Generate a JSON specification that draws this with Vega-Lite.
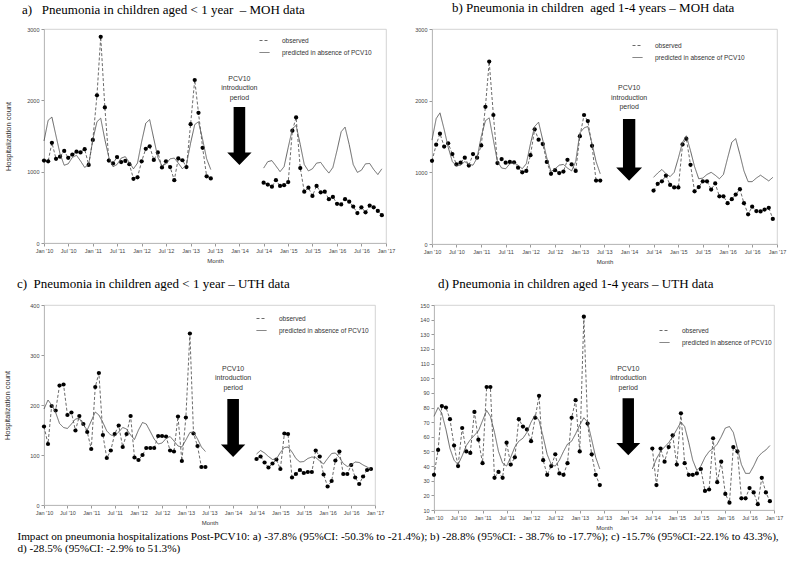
{
"$schema": "https://vega.github.io/schema/vega-lite/v6.json",
"background": "white",
"padding": {"left": 3, "top": 1, "right": 3, "bottom": 3},
"config": {
  "font": "Liberation Sans",
  "view": {"stroke": "#c8c8c8", "strokeWidth": 0.8},
  "axis": {"labelFont": "Liberation Sans", "labelFontSize": 5.5, "labelColor": "#444", "titleFont": "Liberation Sans", "titleFontWeight": "normal", "titleColor": "#333", "domainColor": "#bbb", "tickColor": "#999", "tickSize": 3, "grid": false, "labelPadding": 2},
  "axisX": {"labelOverlap": false, "labelFlush": false, "titleFontSize": 6, "titlePadding": 4},
  "title": {"font": "Liberation Serif", "fontSize": 13, "fontWeight": "normal", "color": "black", "anchor": "start", "frame": "group"},
  "legend": {"title": null, "orient": "none", "padding": 0, "labelFont": "Liberation Sans", "labelFontSize": 6.5, "labelColor": "#333", "symbolType": "stroke", "symbolSize": 100, "symbolStrokeWidth": 0.8, "symbolStrokeColor": "#444", "rowPadding": 3, "labelOffset": 12}
},
"datasets": {
  "a": [
    {"d":"2010-01","o":1155,"f":1430,"s":1},{"d":"2010-02","o":1145,"f":1720,"s":1},{"d":"2010-03","o":1405,"f":1765,"s":1},{"d":"2010-04","o":1180,"f":1500,"s":1},{"d":"2010-05","o":1210,"f":1250,"s":1},{"d":"2010-06","o":1290,"f":1090,"s":1},{"d":"2010-07","o":1195,"f":1110,"s":1},{"d":"2010-08","o":1240,"f":1200,"s":1},{"d":"2010-09","o":1280,"f":1230,"s":1},{"d":"2010-10","o":1270,"f":1150,"s":1},{"d":"2010-11","o":1315,"f":1060,"s":1},{"d":"2010-12","o":1095,"f":1100,"s":1},
    {"d":"2011-01","o":1445,"f":1450,"s":1},{"d":"2011-02","o":2070,"f":1700,"s":1},{"d":"2011-03","o":2890,"f":1750,"s":1},{"d":"2011-04","o":1900,"f":1450,"s":1},{"d":"2011-05","o":1155,"f":1200,"s":1},{"d":"2011-06","o":1115,"f":1070,"s":1},{"d":"2011-07","o":1205,"f":1100,"s":1},{"d":"2011-08","o":1135,"f":1190,"s":1},{"d":"2011-09","o":1150,"f":1210,"s":1},{"d":"2011-10","o":1105,"f":1130,"s":1},{"d":"2011-11","o":900,"f":1040,"s":1},{"d":"2011-12","o":920,"f":1120,"s":1},
    {"d":"2012-01","o":1145,"f":1420,"s":1},{"d":"2012-02","o":1320,"f":1680,"s":1},{"d":"2012-03","o":1355,"f":1730,"s":1},{"d":"2012-04","o":1165,"f":1460,"s":1},{"d":"2012-05","o":1270,"f":1200,"s":1},{"d":"2012-06","o":1060,"f":1080,"s":1},{"d":"2012-07","o":1145,"f":1110,"s":1},{"d":"2012-08","o":1065,"f":1180,"s":1},{"d":"2012-09","o":880,"f":1190,"s":1},{"d":"2012-10","o":1185,"f":1120,"s":1},{"d":"2012-11","o":1160,"f":1040,"s":1},{"d":"2012-12","o":1065,"f":1100,"s":1},
    {"d":"2013-01","o":1665,"f":1400,"s":1},{"d":"2013-02","o":2285,"f":1660,"s":1},{"d":"2013-03","o":1825,"f":1700,"s":1},{"d":"2013-04","o":1335,"f":1450,"s":1},{"d":"2013-05","o":935,"f":1180,"s":1},{"d":"2013-06","o":905,"f":1030,"s":1},
    {"d":"2014-07","o":845,"f":1050,"s":2},{"d":"2014-08","o":820,"f":1140,"s":2},{"d":"2014-09","o":790,"f":1155,"s":2},{"d":"2014-10","o":880,"f":1080,"s":2},{"d":"2014-11","o":800,"f":1000,"s":2},{"d":"2014-12","o":810,"f":1070,"s":2},
    {"d":"2015-01","o":855,"f":1340,"s":2},{"d":"2015-02","o":1575,"f":1600,"s":2},{"d":"2015-03","o":1760,"f":1650,"s":2},{"d":"2015-04","o":1050,"f":1380,"s":2},{"d":"2015-05","o":720,"f":1100,"s":2},{"d":"2015-06","o":775,"f":1010,"s":2},{"d":"2015-07","o":660,"f":1040,"s":2},{"d":"2015-08","o":800,"f":1120,"s":2},{"d":"2015-09","o":710,"f":1130,"s":2},{"d":"2015-10","o":720,"f":1050,"s":2},{"d":"2015-11","o":615,"f":980,"s":2},{"d":"2015-12","o":645,"f":1060,"s":2},
    {"d":"2016-01","o":550,"f":1300,"s":2},{"d":"2016-02","o":540,"f":1560,"s":2},{"d":"2016-03","o":615,"f":1625,"s":2},{"d":"2016-04","o":580,"f":1380,"s":2},{"d":"2016-05","o":510,"f":1100,"s":2},{"d":"2016-06","o":420,"f":990,"s":2},{"d":"2016-07","o":500,"f":1020,"s":2},{"d":"2016-08","o":430,"f":1110,"s":2},{"d":"2016-09","o":525,"f":1115,"s":2},{"d":"2016-10","o":500,"f":1030,"s":2},{"d":"2016-11","o":450,"f":960,"s":2},{"d":"2016-12","o":390,"f":1040,"s":2}
  ],
  "b": [
    {"d":"2010-01","o":1160,"f":1450,"s":1},{"d":"2010-02","o":1385,"f":1750,"s":1},{"d":"2010-03","o":1540,"f":1830,"s":1},{"d":"2010-04","o":1360,"f":1600,"s":1},{"d":"2010-05","o":1405,"f":1350,"s":1},{"d":"2010-06","o":1255,"f":1150,"s":1},{"d":"2010-07","o":1110,"f":1090,"s":1},{"d":"2010-08","o":1135,"f":1100,"s":1},{"d":"2010-09","o":1205,"f":1150,"s":1},{"d":"2010-10","o":1095,"f":1110,"s":1},{"d":"2010-11","o":1255,"f":1100,"s":1},{"d":"2010-12","o":1205,"f":1200,"s":1},
    {"d":"2011-01","o":1375,"f":1500,"s":1},{"d":"2011-02","o":1915,"f":1720,"s":1},{"d":"2011-03","o":2545,"f":1760,"s":1},{"d":"2011-04","o":1800,"f":1450,"s":1},{"d":"2011-05","o":1130,"f":1150,"s":1},{"d":"2011-06","o":1185,"f":1060,"s":1},{"d":"2011-07","o":1135,"f":1050,"s":1},{"d":"2011-08","o":1145,"f":1120,"s":1},{"d":"2011-09","o":1140,"f":1130,"s":1},{"d":"2011-10","o":1065,"f":1100,"s":1},{"d":"2011-11","o":1000,"f":1050,"s":1},{"d":"2011-12","o":1020,"f":1120,"s":1},
    {"d":"2012-01","o":1240,"f":1400,"s":1},{"d":"2012-02","o":1600,"f":1640,"s":1},{"d":"2012-03","o":1455,"f":1700,"s":1},{"d":"2012-04","o":1395,"f":1450,"s":1},{"d":"2012-05","o":1145,"f":1200,"s":1},{"d":"2012-06","o":980,"f":1010,"s":1},{"d":"2012-07","o":1030,"f":1050,"s":1},{"d":"2012-08","o":990,"f":1100,"s":1},{"d":"2012-09","o":1010,"f":1110,"s":1},{"d":"2012-10","o":1175,"f":1060,"s":1},{"d":"2012-11","o":1110,"f":1020,"s":1},{"d":"2012-12","o":1020,"f":1150,"s":1},
    {"d":"2013-01","o":1505,"f":1550,"s":1},{"d":"2013-02","o":1800,"f":1620,"s":1},{"d":"2013-03","o":1715,"f":1640,"s":1},{"d":"2013-04","o":1370,"f":1400,"s":1},{"d":"2013-05","o":885,"f":1150,"s":1},{"d":"2013-06","o":885,"f":980,"s":1},
    {"d":"2014-07","o":745,"f":930,"s":2},{"d":"2014-08","o":840,"f":990,"s":2},{"d":"2014-09","o":875,"f":1040,"s":2},{"d":"2014-10","o":955,"f":980,"s":2},{"d":"2014-11","o":825,"f":940,"s":2},{"d":"2014-12","o":790,"f":1000,"s":2},
    {"d":"2015-01","o":790,"f":1200,"s":2},{"d":"2015-02","o":1390,"f":1420,"s":2},{"d":"2015-03","o":1470,"f":1510,"s":2},{"d":"2015-04","o":1105,"f":1300,"s":2},{"d":"2015-05","o":735,"f":1080,"s":2},{"d":"2015-06","o":795,"f":910,"s":2},{"d":"2015-07","o":875,"f":920,"s":2},{"d":"2015-08","o":875,"f":970,"s":2},{"d":"2015-09","o":760,"f":1000,"s":2},{"d":"2015-10","o":845,"f":960,"s":2},{"d":"2015-11","o":665,"f":910,"s":2},{"d":"2015-12","o":665,"f":970,"s":2},
    {"d":"2016-01","o":570,"f":1200,"s":2},{"d":"2016-02","o":625,"f":1420,"s":2},{"d":"2016-03","o":690,"f":1470,"s":2},{"d":"2016-04","o":765,"f":1250,"s":2},{"d":"2016-05","o":570,"f":1020,"s":2},{"d":"2016-06","o":415,"f":870,"s":2},{"d":"2016-07","o":520,"f":870,"s":2},{"d":"2016-08","o":460,"f":920,"s":2},{"d":"2016-09","o":455,"f":960,"s":2},{"d":"2016-10","o":480,"f":920,"s":2},{"d":"2016-11","o":505,"f":880,"s":2},{"d":"2016-12","o":350,"f":930,"s":2}
  ],
  "c": [
    {"d":"2010-01","o":157,"f":192,"s":1},{"d":"2010-02","o":122,"f":210,"s":1},{"d":"2010-03","o":198,"f":200,"s":1},{"d":"2010-04","o":189,"f":185,"s":1},{"d":"2010-05","o":239,"f":163,"s":1},{"d":"2010-06","o":241,"f":155,"s":1},{"d":"2010-07","o":180,"f":153,"s":1},{"d":"2010-08","o":185,"f":162,"s":1},{"d":"2010-09","o":149,"f":172,"s":1},{"d":"2010-10","o":178,"f":173,"s":1},{"d":"2010-11","o":162,"f":160,"s":1},{"d":"2010-12","o":146,"f":150,"s":1},
    {"d":"2011-01","o":112,"f":168,"s":1},{"d":"2011-02","o":236,"f":186,"s":1},{"d":"2011-03","o":264,"f":180,"s":1},{"d":"2011-04","o":140,"f":165,"s":1},{"d":"2011-05","o":94,"f":148,"s":1},{"d":"2011-06","o":109,"f":140,"s":1},{"d":"2011-07","o":142,"f":138,"s":1},{"d":"2011-08","o":159,"f":146,"s":1},{"d":"2011-09","o":116,"f":155,"s":1},{"d":"2011-10","o":142,"f":152,"s":1},{"d":"2011-11","o":178,"f":140,"s":1},{"d":"2011-12","o":95,"f":131,"s":1},
    {"d":"2012-01","o":90,"f":150,"s":1},{"d":"2012-02","o":100,"f":165,"s":1},{"d":"2012-03","o":114,"f":162,"s":1},{"d":"2012-04","o":114,"f":147,"s":1},{"d":"2012-05","o":114,"f":132,"s":1},{"d":"2012-06","o":138,"f":122,"s":1},{"d":"2012-07","o":138,"f":124,"s":1},{"d":"2012-08","o":137,"f":133,"s":1},{"d":"2012-09","o":109,"f":137,"s":1},{"d":"2012-10","o":107,"f":128,"s":1},{"d":"2012-11","o":177,"f":118,"s":1},{"d":"2012-12","o":88,"f":116,"s":1},
    {"d":"2013-01","o":175,"f":130,"s":1},{"d":"2013-02","o":343,"f":145,"s":1},{"d":"2013-03","o":143,"f":146,"s":1},{"d":"2013-04","o":118,"f":132,"s":1},{"d":"2013-05","o":76,"f":116,"s":1},{"d":"2013-06","o":76,"f":107,"s":1},
    {"d":"2014-07","o":92,"f":102,"s":2},{"d":"2014-08","o":97,"f":109,"s":2},{"d":"2014-09","o":85,"f":104,"s":2},{"d":"2014-10","o":75,"f":97,"s":2},{"d":"2014-11","o":83,"f":91,"s":2},{"d":"2014-12","o":91,"f":92,"s":2},
    {"d":"2015-01","o":72,"f":105,"s":2},{"d":"2015-02","o":143,"f":115,"s":2},{"d":"2015-03","o":142,"f":116,"s":2},{"d":"2015-04","o":55,"f":106,"s":2},{"d":"2015-05","o":62,"f":93,"s":2},{"d":"2015-06","o":70,"f":86,"s":2},{"d":"2015-07","o":64,"f":87,"s":2},{"d":"2015-08","o":66,"f":93,"s":2},{"d":"2015-09","o":66,"f":96,"s":2},{"d":"2015-10","o":109,"f":95,"s":2},{"d":"2015-11","o":97,"f":88,"s":2},{"d":"2015-12","o":61,"f":82,"s":2},
    {"d":"2016-01","o":37,"f":93,"s":2},{"d":"2016-02","o":48,"f":103,"s":2},{"d":"2016-03","o":89,"f":104,"s":2},{"d":"2016-04","o":107,"f":95,"s":2},{"d":"2016-05","o":62,"f":83,"s":2},{"d":"2016-06","o":62,"f":77,"s":2},{"d":"2016-07","o":80,"f":80,"s":2},{"d":"2016-08","o":55,"f":86,"s":2},{"d":"2016-09","o":42,"f":85,"s":2},{"d":"2016-10","o":57,"f":80,"s":2},{"d":"2016-11","o":70,"f":76,"s":2},{"d":"2016-12","o":72,"f":71,"s":2}
  ],
  "d": [
    {"d":"2010-01","o":34,"f":74,"s":1},{"d":"2010-02","o":51,"f":80,"s":1},{"d":"2010-03","o":81,"f":76,"s":1},{"d":"2010-04","o":80,"f":65,"s":1},{"d":"2010-05","o":72,"f":52,"s":1},{"d":"2010-06","o":54,"f":44,"s":1},{"d":"2010-07","o":40,"f":41,"s":1},{"d":"2010-08","o":66,"f":47,"s":1},{"d":"2010-09","o":50,"f":54,"s":1},{"d":"2010-10","o":49,"f":58,"s":1},{"d":"2010-11","o":77,"f":61,"s":1},{"d":"2010-12","o":58,"f":64,"s":1},
    {"d":"2011-01","o":42,"f":71,"s":1},{"d":"2011-02","o":94,"f":78,"s":1},{"d":"2011-03","o":94,"f":74,"s":1},{"d":"2011-04","o":32,"f":63,"s":1},{"d":"2011-05","o":36,"f":50,"s":1},{"d":"2011-06","o":32,"f":42,"s":1},{"d":"2011-07","o":56,"f":40,"s":1},{"d":"2011-08","o":41,"f":46,"s":1},{"d":"2011-09","o":46,"f":53,"s":1},{"d":"2011-10","o":72,"f":57,"s":1},{"d":"2011-11","o":67,"f":59,"s":1},{"d":"2011-12","o":65,"f":63,"s":1},
    {"d":"2012-01","o":57,"f":70,"s":1},{"d":"2012-02","o":73,"f":75,"s":1},{"d":"2012-03","o":88,"f":71,"s":1},{"d":"2012-04","o":44,"f":60,"s":1},{"d":"2012-05","o":34,"f":48,"s":1},{"d":"2012-06","o":40,"f":41,"s":1},{"d":"2012-07","o":48,"f":40,"s":1},{"d":"2012-08","o":35,"f":44,"s":1},{"d":"2012-09","o":34,"f":50,"s":1},{"d":"2012-10","o":42,"f":55,"s":1},{"d":"2012-11","o":73,"f":57,"s":1},{"d":"2012-12","o":85,"f":62,"s":1},
    {"d":"2013-01","o":50,"f":68,"s":1},{"d":"2013-02","o":142,"f":73,"s":1},{"d":"2013-03","o":69,"f":70,"s":1},{"d":"2013-04","o":48,"f":58,"s":1},{"d":"2013-05","o":34,"f":46,"s":1},{"d":"2013-06","o":27,"f":38,"s":1},
    {"d":"2014-07","o":52,"f":38,"s":2},{"d":"2014-08","o":27,"f":45,"s":2},{"d":"2014-09","o":52,"f":50,"s":2},{"d":"2014-10","o":43,"f":53,"s":2},{"d":"2014-11","o":53,"f":56,"s":2},{"d":"2014-12","o":61,"f":60,"s":2},
    {"d":"2015-01","o":41,"f":65,"s":2},{"d":"2015-02","o":76,"f":70,"s":2},{"d":"2015-03","o":42,"f":67,"s":2},{"d":"2015-04","o":34,"f":56,"s":2},{"d":"2015-05","o":34,"f":44,"s":2},{"d":"2015-06","o":35,"f":37,"s":2},{"d":"2015-07","o":38,"f":40,"s":2},{"d":"2015-08","o":23,"f":46,"s":2},{"d":"2015-09","o":24,"f":50,"s":2},{"d":"2015-10","o":59,"f":52,"s":2},{"d":"2015-11","o":29,"f":55,"s":2},{"d":"2015-12","o":43,"f":60,"s":2},
    {"d":"2016-01","o":21,"f":66,"s":2},{"d":"2016-02","o":15,"f":67,"s":2},{"d":"2016-03","o":53,"f":63,"s":2},{"d":"2016-04","o":50,"f":52,"s":2},{"d":"2016-05","o":18,"f":41,"s":2},{"d":"2016-06","o":18,"f":35,"s":2},{"d":"2016-07","o":25,"f":35,"s":2},{"d":"2016-08","o":22,"f":40,"s":2},{"d":"2016-09","o":14,"f":46,"s":2},{"d":"2016-10","o":32,"f":49,"s":2},{"d":"2016-11","o":22,"f":51,"s":2},{"d":"2016-12","o":16,"f":54,"s":2}
  ]
},
"title": {"text": ["Impact on pneumonia hospitalizations Post-PCV10: a) -37.8% (95%CI: -50.3% to -21.4%); b) -28.8% (95%CI: - 38.7% to -17.7%); c) -15.7% (95%CI:-22.1% to 43.3%),", "d) -28.5% (95%CI: -2.9% to 51.3%)"], "orient": "bottom", "anchor": "start", "frame": "bounds", "font": "Liberation Serif", "fontSize": 11.2, "fontWeight": "normal", "lineHeight": 12.5, "offset": 0, "dx": 14},
"spacing": 12,
"resolve": {"scale": {"strokeDash": "independent"}, "legend": {"strokeDash": "independent"}},
"vconcat": [
 {"hconcat": [
  {
   "width": 342, "height": 214,
   "title": {"text": "a)\u00a0\u00a0\u00a0Pneumonia in children aged < 1 year\u00a0 – MOH data", "dx": -22, "offset": 10},
   "data": {"name": "a"},
   "encoding": {
     "x": {"field": "d", "type": "temporal", "scale": {"type": "utc", "domain": [{"year": 2010, "month": 1, "date": 1, "utc": true}, {"year": 2017, "month": 1, "date": 1, "utc": true}]}, "axis": {"title": "Month", "labelExpr": "utcFormat(datum.value, \"%b '%y\")", "values": [{"year":2010,"month":1,"date":1,"utc":true},{"year":2010,"month":7,"date":1,"utc":true},{"year":2011,"month":1,"date":1,"utc":true},{"year":2011,"month":7,"date":1,"utc":true},{"year":2012,"month":1,"date":1,"utc":true},{"year":2012,"month":7,"date":1,"utc":true},{"year":2013,"month":1,"date":1,"utc":true},{"year":2013,"month":7,"date":1,"utc":true},{"year":2014,"month":1,"date":1,"utc":true},{"year":2014,"month":7,"date":1,"utc":true},{"year":2015,"month":1,"date":1,"utc":true},{"year":2015,"month":7,"date":1,"utc":true},{"year":2016,"month":1,"date":1,"utc":true},{"year":2016,"month":7,"date":1,"utc":true},{"year":2017,"month":1,"date":1,"utc":true}]}},
     "y": {"field": "o", "type": "quantitative", "scale": {"domain": [0, 3000], "nice": false}, "axis": {"values": [0, 1000, 2000, 3000], "format": "d", "title": "Hospitalization count", "titleFontSize": 7.5, "titlePadding": 14}}
   },
   "layer": [
     {"mark": {"type": "line", "color": "#444", "strokeWidth": 0.8}, "encoding": {"detail": {"field": "s", "type": "nominal"}, "strokeDash": {"datum": "observed", "type": "nominal", "scale": {"domain": ["observed", "predicted in absence of PCV10"], "range": [[3, 2], [1, 0]]}, "legend": {"legendX": 215, "legendY": 6}}}},
     {"mark": {"type": "point", "filled": true, "color": "black", "opacity": 1, "size": 18}},
     {"mark": {"type": "line", "color": "#555", "strokeWidth": 0.9}, "encoding": {"y": {"field": "f", "type": "quantitative", "scale": {"domain": [0, 3000], "nice": false}, "axis": {"values": [0, 1000, 2000, 3000], "format": "d", "title": "Hospitalization count", "titleFontSize": 7.5, "titlePadding": 14}}, "detail": {"field": "s", "type": "nominal"}, "strokeDash": {"datum": "predicted in absence of PCV10", "type": "nominal"}}},
     {"data": {"values": [{"d": "2014-01", "o": 1500}]}, "mark": {"type": "point", "shape": "M-0.2,-1L0.2,-1L0.2,0.57L0.42,0.57L0,1L-0.42,0.57L-0.2,0.57Z", "filled": true, "color": "black", "opacity": 1, "size": 3364}},
     {"data": {"values": [{"d": "2014-01", "o": 2304, "t": "PCV10\nintroduction\nperiod"}]}, "mark": {"type": "text", "lineBreak": "\n", "fontSize": 7, "lineHeight": 9.5, "color": "#333", "baseline": "middle"}, "encoding": {"text": {"field": "t"}}}
   ]
  },
  {
   "width": 345, "height": 215,
   "title": {"text": "b) Pneumonia in children\u00a0 aged 1-4 years – MOH data", "dx": 20, "offset": 12},
   "data": {"name": "b"},
   "encoding": {
     "x": {"field": "d", "type": "temporal", "scale": {"type": "utc", "domain": [{"year": 2010, "month": 1, "date": 1, "utc": true}, {"year": 2017, "month": 1, "date": 1, "utc": true}]}, "axis": {"title": "Month", "labelExpr": "utcFormat(datum.value, \"%b '%y\")", "values": [{"year":2010,"month":1,"date":1,"utc":true},{"year":2010,"month":7,"date":1,"utc":true},{"year":2011,"month":1,"date":1,"utc":true},{"year":2011,"month":7,"date":1,"utc":true},{"year":2012,"month":1,"date":1,"utc":true},{"year":2012,"month":7,"date":1,"utc":true},{"year":2013,"month":1,"date":1,"utc":true},{"year":2013,"month":7,"date":1,"utc":true},{"year":2014,"month":1,"date":1,"utc":true},{"year":2014,"month":7,"date":1,"utc":true},{"year":2015,"month":1,"date":1,"utc":true},{"year":2015,"month":7,"date":1,"utc":true},{"year":2016,"month":1,"date":1,"utc":true},{"year":2016,"month":7,"date":1,"utc":true},{"year":2017,"month":1,"date":1,"utc":true}]}},
     "y": {"field": "o", "type": "quantitative", "scale": {"domain": [0, 3000], "nice": false}, "axis": {"values": [0, 1000, 2000, 3000], "format": "d", "title": null}}
   },
   "layer": [
     {"mark": {"type": "line", "color": "#444", "strokeWidth": 0.8}, "encoding": {"detail": {"field": "s", "type": "nominal"}, "strokeDash": {"datum": "observed", "type": "nominal", "scale": {"domain": ["observed", "predicted in absence of PCV10"], "range": [[3, 2], [1, 0]]}, "legend": {"legendX": 200, "legendY": 11}}}},
     {"mark": {"type": "point", "filled": true, "color": "black", "opacity": 1, "size": 18}},
     {"mark": {"type": "line", "color": "#555", "strokeWidth": 0.9}, "encoding": {"y": {"field": "f", "type": "quantitative", "scale": {"domain": [0, 3000], "nice": false}, "axis": {"values": [0, 1000, 2000, 3000], "format": "d", "title": null}}, "detail": {"field": "s", "type": "nominal"}, "strokeDash": {"datum": "predicted in absence of PCV10", "type": "nominal"}}},
     {"data": {"values": [{"d": "2014-01", "o": 1313}]}, "mark": {"type": "point", "shape": "M-0.2,-1L0.2,-1L0.2,0.57L0.42,0.57L0,1L-0.42,0.57L-0.2,0.57Z", "filled": true, "color": "black", "opacity": 1, "size": 3800}},
     {"data": {"values": [{"d": "2014-01", "o": 2176, "t": "PCV10\nintroduction\nperiod"}]}, "mark": {"type": "text", "lineBreak": "\n", "fontSize": 7, "lineHeight": 9.5, "color": "#333", "baseline": "middle"}, "encoding": {"text": {"field": "t"}}}
   ]
  }
 ], "spacing": 18, "resolve": {"scale": {"strokeDash": "independent"}, "legend": {"strokeDash": "independent"}}},
 {"hconcat": [
  {
   "width": 331, "height": 200,
   "title": {"text": "c)\u00a0 Pneumonia in children aged < 1 year – UTH data", "dx": -27, "offset": 12},
   "data": {"name": "c"},
   "encoding": {
     "x": {"field": "d", "type": "temporal", "scale": {"type": "utc", "domain": [{"year": 2010, "month": 1, "date": 1, "utc": true}, {"year": 2017, "month": 1, "date": 1, "utc": true}]}, "axis": {"title": "Month", "labelExpr": "utcFormat(datum.value, \"%b '%y\")", "values": [{"year":2010,"month":1,"date":1,"utc":true},{"year":2010,"month":7,"date":1,"utc":true},{"year":2011,"month":1,"date":1,"utc":true},{"year":2011,"month":7,"date":1,"utc":true},{"year":2012,"month":1,"date":1,"utc":true},{"year":2012,"month":7,"date":1,"utc":true},{"year":2013,"month":1,"date":1,"utc":true},{"year":2013,"month":7,"date":1,"utc":true},{"year":2014,"month":1,"date":1,"utc":true},{"year":2014,"month":7,"date":1,"utc":true},{"year":2015,"month":1,"date":1,"utc":true},{"year":2015,"month":7,"date":1,"utc":true},{"year":2016,"month":1,"date":1,"utc":true},{"year":2016,"month":7,"date":1,"utc":true},{"year":2017,"month":1,"date":1,"utc":true}]}},
     "y": {"field": "o", "type": "quantitative", "scale": {"domain": [0, 400], "nice": false}, "axis": {"values": [0, 100, 200, 300, 400], "format": "d", "title": "Hospitalization count", "titleFontSize": 7.5, "titlePadding": 18}}
   },
   "layer": [
     {"mark": {"type": "line", "color": "#444", "strokeWidth": 0.8}, "encoding": {"detail": {"field": "s", "type": "nominal"}, "strokeDash": {"datum": "observed", "type": "nominal", "scale": {"domain": ["observed", "predicted in absence of PCV10"], "range": [[3, 2], [1, 0]]}, "legend": {"legendX": 212, "legendY": 8}}}},
     {"mark": {"type": "point", "filled": true, "color": "black", "opacity": 1, "size": 18}},
     {"mark": {"type": "line", "color": "#555", "strokeWidth": 0.9}, "encoding": {"y": {"field": "f", "type": "quantitative", "scale": {"domain": [0, 400], "nice": false}, "axis": {"values": [0, 100, 200, 300, 400], "format": "d", "title": "Hospitalization count", "titleFontSize": 7.5, "titlePadding": 18}}, "detail": {"field": "s", "type": "nominal"}, "strokeDash": {"datum": "predicted in absence of PCV10", "type": "nominal"}}},
     {"data": {"values": [{"d": "2014-01", "o": 154}]}, "mark": {"type": "point", "shape": "M-0.2,-1L0.2,-1L0.2,0.57L0.42,0.57L0,1L-0.42,0.57L-0.2,0.57Z", "filled": true, "color": "black", "opacity": 1, "size": 3364}},
     {"data": {"values": [{"d": "2014-01", "o": 273, "t": "PCV10\nintroduction\nperiod"}]}, "mark": {"type": "text", "lineBreak": "\n", "fontSize": 7, "lineHeight": 9.5, "color": "#333", "baseline": "middle"}, "encoding": {"text": {"field": "t"}}}
   ]
  },
  {
   "width": 340, "height": 205,
   "title": {"text": "d) Pneumonia in children aged 1-4 years – UTH data", "dx": 4, "offset": 12},
   "data": {"name": "d"},
   "encoding": {
     "x": {"field": "d", "type": "temporal", "scale": {"type": "utc", "domain": [{"year": 2010, "month": 1, "date": 1, "utc": true}, {"year": 2017, "month": 1, "date": 1, "utc": true}]}, "axis": {"title": "Month", "labelExpr": "utcFormat(datum.value, \"%b '%y\")", "values": [{"year":2010,"month":1,"date":1,"utc":true},{"year":2010,"month":7,"date":1,"utc":true},{"year":2011,"month":1,"date":1,"utc":true},{"year":2011,"month":7,"date":1,"utc":true},{"year":2012,"month":1,"date":1,"utc":true},{"year":2012,"month":7,"date":1,"utc":true},{"year":2013,"month":1,"date":1,"utc":true},{"year":2013,"month":7,"date":1,"utc":true},{"year":2014,"month":1,"date":1,"utc":true},{"year":2014,"month":7,"date":1,"utc":true},{"year":2015,"month":1,"date":1,"utc":true},{"year":2015,"month":7,"date":1,"utc":true},{"year":2016,"month":1,"date":1,"utc":true},{"year":2016,"month":7,"date":1,"utc":true},{"year":2017,"month":1,"date":1,"utc":true}]}},
     "y": {"field": "o", "type": "quantitative", "scale": {"domain": [10, 150], "nice": false, "zero": false}, "axis": {"values": [10, 20, 30, 40, 50, 60, 70, 80, 90, 100, 110, 120, 130, 140, 150], "format": "d", "title": null}}
   },
   "layer": [
     {"mark": {"type": "line", "color": "#444", "strokeWidth": 0.8}, "encoding": {"detail": {"field": "s", "type": "nominal"}, "strokeDash": {"datum": "observed", "type": "nominal", "scale": {"domain": ["observed", "predicted in absence of PCV10"], "range": [[3, 2], [1, 0]]}, "legend": {"legendX": 225, "legendY": 20}}}},
     {"mark": {"type": "point", "filled": true, "color": "black", "opacity": 1, "size": 18}},
     {"mark": {"type": "line", "color": "#555", "strokeWidth": 0.9}, "encoding": {"y": {"field": "f", "type": "quantitative", "scale": {"domain": [10, 150], "nice": false, "zero": false}, "axis": {"values": [10, 20, 30, 40, 50, 60, 70, 80, 90, 100, 110, 120, 130, 140, 150], "format": "d", "title": null}}, "detail": {"field": "s", "type": "nominal"}, "strokeDash": {"datum": "predicted in absence of PCV10", "type": "nominal"}}},
     {"data": {"values": [{"d": "2014-01", "o": 66.8}]}, "mark": {"type": "point", "shape": "M-0.2,-1L0.2,-1L0.2,0.57L0.42,0.57L0,1L-0.42,0.57L-0.2,0.57Z", "filled": true, "color": "black", "opacity": 1, "size": 3250}},
     {"data": {"values": [{"d": "2014-01", "o": 106.4, "t": "PCV10\nintroduction\nperiod"}]}, "mark": {"type": "text", "lineBreak": "\n", "fontSize": 7, "lineHeight": 9.5, "color": "#333", "baseline": "middle"}, "encoding": {"text": {"field": "t"}}}
   ]
  }
 ], "spacing": 34, "resolve": {"scale": {"strokeDash": "independent"}, "legend": {"strokeDash": "independent"}}}
]
}
